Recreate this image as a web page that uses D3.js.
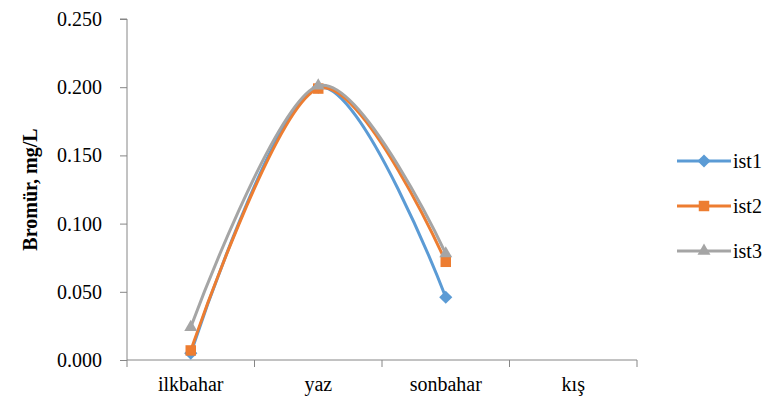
<!DOCTYPE html>
<html>
<head>
<meta charset="utf-8">
<script src="https://cdn.jsdelivr.net/npm/d3@7"></script>
<style>
  body { margin: 0; background: #fff; }
  #chart text { font-family: "Liberation Serif", "Times New Roman", serif !important; }
</style>
</head>
<body>
<svg id="chart" width="776" height="413" font-family="Liberation Serif" font-size="20">
  <text id="ytitle" text-anchor="middle" font-family="Liberation Serif" font-weight="bold" font-size="20">Bromür, mg/L</text>
</svg>
<script>
// Data
const categories = ["ilkbahar", "yaz", "sonbahar", "kış"];
const seriesNames = ["ist1", "ist2", "ist3"];
const ist1 = [0.005, 0.200, 0.046, null];
const ist2 = [0.007, 0.199, 0.072, null];
const ist3 = [0.024, 0.201, 0.078, null];
const yTicks = [0, 0.05, 0.1, 0.15, 0.2, 0.25];

const colors = ["#5b9bd5", "#ed7d31", "#a5a5a5"];
const symbols = [d3.symbolDiamond2, d3.symbolSquare2, d3.symbolTriangle2];
const symbolSizes = [110, 140, 120];
const allSeries = [ist1, ist2, ist3];

const svg = d3.select("#chart");
const margin = { left: 127, top: 19, right: 139, bottom: 53 };
const width = 776, height = 413;

const x = d3
  .scaleBand()
  .domain(categories)
  .range([margin.left, width - margin.right])
  .padding(0);

const y = d3
  .scaleLinear()
  .domain([0, 0.25])
  .range([height - margin.bottom, margin.top]);

const axisColor = "#868686";

// Y axis
const yAxis = svg
  .append("g")
  .attr("transform", `translate(${margin.left},0)`)
  .call(
    d3.axisLeft(y)
      .tickValues(yTicks)
      .tickFormat(d3.format(".3f"))
      .tickSize(7)
      .tickPadding(18)
  );
yAxis.attr("font-family", "Liberation Serif").attr("font-size", 20);
yAxis.selectAll("path, line").attr("stroke", axisColor);
yAxis.selectAll("text").attr("fill", "#000");
yAxis.select(".domain").attr("d", `M-7,${y(0.25)}H0V${y(0)}`);

// X axis with ticks at category boundaries
const xAxis = svg
  .append("g")
  .attr("transform", `translate(0,${y(0)})`)
  .call(d3.axisBottom(x).tickSize(0).tickPadding(17));
xAxis.attr("font-family", "Liberation Serif").attr("font-size", 20);
xAxis.select(".domain").attr("stroke", axisColor).attr("d", `M${margin.left},0H${width - margin.right}`);
xAxis.selectAll("text").attr("fill", "#000").attr("dy", "0.71em");
const bounds = categories.map((c) => x(c)).concat([x(categories[3]) + x.bandwidth()]);
xAxis
  .selectAll(".bound")
  .data(bounds)
  .enter()
  .append("line")
  .attr("class", "bound")
  .attr("x1", (d) => d)
  .attr("x2", (d) => d)
  .attr("y1", 0)
  .attr("y2", 7)
  .attr("stroke", axisColor);

// Y axis title (static text, positioned here)
svg
  .select("#ytitle")
  .attr("transform", `translate(30,${(y(0) + y(0.25)) / 2}) rotate(-90)`)
  .attr("dy", "0.35em");

// Lines
const line = d3
  .line()
  .defined((d) => d.v !== null)
  .x((d) => x(d.c) + x.bandwidth() / 2)
  .y((d) => y(d.v))
  .curve(d3.curveCardinal.tension(0));

allSeries.forEach((vals, i) => {
  const pts = categories.map((c, j) => ({ c: c, v: vals[j] }));
  svg
    .append("path")
    .attr("d", line(pts))
    .attr("fill", "none")
    .attr("stroke", colors[i])
    .attr("stroke-width", 3)
    .attr("stroke-linecap", "round");

  svg
    .selectAll(".m" + i)
    .data(pts.filter((d) => d.v !== null))
    .enter()
    .append("path")
    .attr("class", "m" + i)
    .attr("d", d3.symbol().type(symbols[i]).size(symbolSizes[i]))
    .attr("transform", (d) => `translate(${x(d.c) + x.bandwidth() / 2},${y(d.v)})`)
    .attr("fill", colors[i]);
});

// Legend
const legend = svg.append("g").attr("transform", "translate(677,0)");
const legendY = [161, 206, 251];
seriesNames.forEach((name, i) => {
  const row = legend.append("g").attr("transform", `translate(0,${legendY[i]})`);
  row
    .append("line")
    .attr("x1", 0)
    .attr("x2", 54)
    .attr("stroke", colors[i])
    .attr("stroke-width", 3);
  row
    .append("path")
    .attr("d", d3.symbol().type(symbols[i]).size(symbolSizes[i]))
    .attr("transform", "translate(27,0)")
    .attr("fill", colors[i]);
  row
    .append("text")
    .attr("x", 56)
    .attr("dy", "0.35em")
    .text(name);
});
</script>
</body>
</html>
